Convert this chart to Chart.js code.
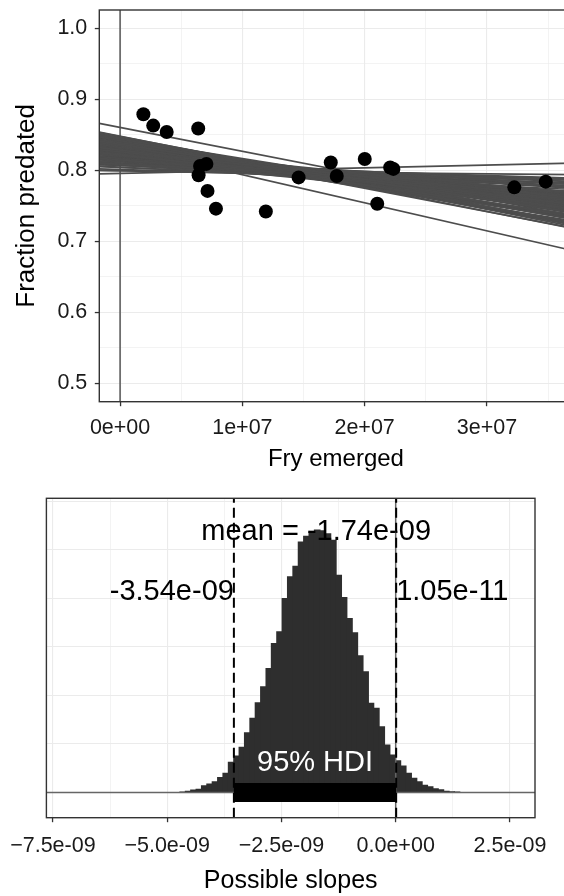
<!DOCTYPE html>
<html>
<head>
<meta charset="utf-8">
<script src="https://cdn.jsdelivr.net/npm/chart.js@4.4.1/dist/chart.umd.min.js"></script>
<style>
  html, body { margin: 0; padding: 0; background: #fff; overflow: hidden; }
  #fitBox { position: absolute; left: 0; top: 0; width: 580px; height: 480px; }
  #slopeBox { position: absolute; left: 0; top: 480px; width: 564px; height: 416px; }
</style>
</head>
<body>
<div id="fitBox"><canvas id="fitChart"></canvas></div>
<div id="slopeBox"><canvas id="slopeChart"></canvas></div>
<script>
// observed years: fry emerged vs fraction predated
const fryEmerged = [1.905e6, 2.71e6, 3.81e6, 6.39e6, 6.54e6, 7.06e6, 6.42e6, 7.15e6, 7.84e6, 1.192e7,
  1.46e7, 1.723e7, 1.772e7, 2.001e7, 2.103e7, 2.209e7, 2.235e7, 3.224e7, 3.481e7];
const fractionPredated = [0.879, 0.863, 0.854, 0.859, 0.806, 0.809, 0.793, 0.771, 0.746, 0.742,
  0.790, 0.811, 0.792, 0.816, 0.753, 0.804, 0.802, 0.776, 0.784];

// posterior regression lines, read at the left and right edge of the panel
const lineStartX = -1.7e6;
const lineEndX = 3.7e7;
const lineStartY = [0.829, 0.832, 0.817, 0.841, 0.810, 0.839, 0.825, 0.823, 0.849, 0.832,
  0.816, 0.829, 0.829, 0.847, 0.810, 0.809, 0.826, 0.839, 0.822, 0.800,
  0.830, 0.817, 0.843, 0.833, 0.823, 0.805, 0.851, 0.833, 0.825, 0.822,
  0.837, 0.817, 0.825, 0.809, 0.834, 0.837, 0.819, 0.847, 0.815, 0.836,
  0.833, 0.817, 0.800, 0.854, 0.840, 0.819, 0.866, 0.840, 0.795,
  0.825, 0.827, 0.836, 0.830, 0.815, 0.823, 0.840, 0.823, 0.847, 0.816,
  0.837, 0.816, 0.840, 0.828, 0.832, 0.827, 0.819, 0.810, 0.842, 0.826,
  0.832, 0.820, 0.846, 0.841,
  0.853, 0.851, 0.846, 0.851, 0.850, 0.844, 0.846, 0.836, 0.813, 0.808,
  0.808, 0.802, 0.815, 0.812, 0.820, 0.806, 0.840, 0.843, 0.834, 0.849];
const lineEndY = [0.762, 0.752, 0.764, 0.741, 0.777, 0.752, 0.751, 0.763, 0.735, 0.738,
  0.776, 0.749, 0.769, 0.727, 0.764, 0.789, 0.759, 0.732, 0.775, 0.787,
  0.757, 0.757, 0.750, 0.746, 0.770, 0.778, 0.725, 0.760, 0.745, 0.768,
  0.737, 0.784, 0.758, 0.769, 0.754, 0.744, 0.759, 0.740, 0.768, 0.749,
  0.766, 0.751, 0.794, 0.721, 0.727, 0.766, 0.736, 0.687, 0.810,
  0.765, 0.754, 0.756, 0.744, 0.775, 0.756, 0.747, 0.750, 0.734, 0.769,
  0.757, 0.763, 0.740, 0.761, 0.745, 0.767, 0.752, 0.784, 0.735, 0.746,
  0.758, 0.767, 0.726, 0.748,
  0.726, 0.718, 0.719, 0.731, 0.723, 0.724, 0.732, 0.729, 0.787, 0.788,
  0.781, 0.782, 0.781, 0.778, 0.780, 0.773, 0.733, 0.743, 0.734, 0.742];

// histogram of posterior slopes
const slopeBins = [-4.659e-9, -4.541e-9, -4.424e-9, -4.306e-9, -4.188e-9, -4.071e-9, -3.953e-9, -3.835e-9,
  -3.718e-9, -3.600e-9, -3.482e-9, -3.365e-9, -3.247e-9, -3.129e-9, -3.012e-9, -2.894e-9,
  -2.776e-9, -2.659e-9, -2.541e-9, -2.423e-9, -2.306e-9, -2.188e-9, -2.070e-9, -1.953e-9,
  -1.835e-9, -1.717e-9, -1.600e-9, -1.482e-9, -1.364e-9, -1.247e-9, -1.129e-9, -1.011e-9,
  -0.894e-9, -0.776e-9, -0.658e-9, -0.541e-9, -0.423e-9, -0.305e-9, -0.188e-9, -0.070e-9,
  0.048e-9, 0.165e-9, 0.283e-9, 0.401e-9, 0.518e-9, 0.636e-9, 0.754e-9, 0.871e-9,
  0.989e-9, 1.107e-9, 1.224e-9, 1.342e-9];
const slopeCounts = [7, 15, 28, 36, 72, 88, 113, 155, 200, 313, 378, 468, 618, 766, 927, 1092,
  1281, 1539, 1658, 2002, 2225, 2335, 2585, 2644, 2688, 2709, 2700, 2668, 2603, 2242, 2013, 1796,
  1648, 1411, 1246, 921, 869, 680, 491, 388, 330, 275, 200, 148, 113, 77, 62, 41,
  31, 15, 10, 6];
const slopeMean = -1.74e-9;
const hdiLow = -3.54e-9;
const hdiHigh = 1.05e-11;

// ticks
const fitXTicks = [0, 1e7, 2e7, 3e7];
const fitXLabels = ['0e+00', '1e+07', '2e+07', '3e+07'];
const fitXMinor = [5e6, 1.5e7, 2.5e7, 3.5e7];
const fitYTicks = [0.5, 0.6, 0.7, 0.8, 0.9, 1.0];
const fitYLabels = ['0.5', '0.6', '0.7', '0.8', '0.9', '1.0'];
const fitYMinor = [0.55, 0.65, 0.75, 0.85, 0.95];
const slopeXTicks = [-7.5e-9, -5e-9, -2.5e-9, 0, 2.5e-9];
const slopeXLabels = ['\u22127.5e-09', '\u22125.0e-09', '\u22122.5e-09', '0.0e+00', '2.5e-09'];
const slopeXMinor = [-6.25e-9, -3.75e-9, -1.25e-9, 1.25e-9];
const slopeYGrid = [0, 500, 1000, 1500, 2000, 2500, 3000];

const FONT = "'Liberation Sans', Arial, Helvetica, sans-serif";

function findTick(list, v, tol) {
  return list.findIndex(t => Math.abs(t - v) < tol);
}

// replace the automatic ticks by our own major + minor positions
function setTicks(major, minor) {
  return function (scale) {
    scale.ticks = major.concat(minor).sort((a, b) => a - b).map(v => ({ value: v }));
  };
}

// fixed axis size, and no extra room for labels sticking out
function fixSize(prop, size) {
  return function (s) {
    s[prop] = size;
    s.paddingTop = 0; s.paddingBottom = 0; s.paddingLeft = 0; s.paddingRight = 0;
  };
}

function gridFor(major, tol, showTicks) {
  const isMajor = c => c.tick && findTick(major, c.tick.value, tol) >= 0;
  return {
    color: '#ebebeb',
    lineWidth: c => isMajor(c) ? 1.1 : 0.6,
    drawTicks: showTicks,
    tickLength: 4.5,
    tickWidth: 1.3,
    tickColor: c => isMajor(c) ? '#333333' : 'rgba(0,0,0,0)'
  };
}

function labelFor(major, labels, tol) {
  return function (value) {
    const i = findTick(major, value, tol);
    return i >= 0 ? labels[i] : '';
  };
}

// ggplot style box around the panel
const panelBorder = {
  id: 'panelBorder',
  afterDraw(chart) {
    const { ctx, chartArea: a } = chart;
    ctx.save();
    ctx.strokeStyle = '#333333';
    ctx.lineWidth = 1.4;
    ctx.strokeRect(a.left, a.top, a.right - a.left, a.bottom - a.top);
    ctx.restore();
  }
};

// ---------- top panel: data + posterior lines ----------
const fitYMin = 0.4741, fitYMax = 1.0258;
const fitDatasets = [{
  data: fryEmerged.map((x, i) => ({ x: x, y: fractionPredated[i] })),
  pointRadius: 7,
  pointBackgroundColor: '#000',
  pointBorderWidth: 0,
  showLine: false,
  order: 0
}];
lineStartY.forEach((y0, i) => {
  fitDatasets.push({
    type: 'line',
    data: [{ x: lineStartX, y: y0 }, { x: lineEndX, y: lineEndY[i] }],
    borderColor: '#4d4d4d',
    borderWidth: 1.7,
    pointRadius: 0,
    order: 2
  });
});
fitDatasets.push({
  type: 'line',
  data: [{ x: 0, y: fitYMin }, { x: 0, y: fitYMax }],
  borderColor: '#5e5e5e',
  borderWidth: 1.6,
  pointRadius: 0,
  order: 3
});

new Chart(document.getElementById('fitChart'), {
  type: 'scatter',
  data: { datasets: fitDatasets },
  plugins: [panelBorder],
  options: {
    responsive: true,
    maintainAspectRatio: false,
    animation: false,
    events: [],
    layout: { padding: { top: 10, right: 7.5, bottom: 0, left: 0 } },
    plugins: { legend: { display: false }, tooltip: { enabled: false } },
    scales: {
      x: {
        type: 'linear',
        min: lineStartX,
        max: lineEndX,
        afterBuildTicks: setTicks(fitXTicks, fitXMinor),
        afterFit: fixSize('height', 78.3),
        grid: gridFor(fitXTicks, 1e5, true),
        border: { display: false },
        ticks: {
          autoSkip: false, maxRotation: 0, padding: 9, color: '#1a1a1a',
          font: { family: FONT, size: 21.5 },
          callback: labelFor(fitXTicks, fitXLabels, 1e5)
        },
        title: {
          display: true, text: 'Fry emerged', color: '#000',
          font: { family: FONT, size: 24 }, padding: { top: 0, bottom: 6 }
        }
      },
      y: {
        type: 'linear',
        min: fitYMin,
        max: fitYMax,
        afterBuildTicks: setTicks(fitYTicks, fitYMinor),
        afterFit: fixSize('width', 99.3),
        grid: gridFor(fitYTicks, 1e-3, true),
        border: { display: false },
        ticks: {
          autoSkip: false, padding: 7.5, color: '#1a1a1a',
          font: { family: FONT, size: 21.5 },
          callback: labelFor(fitYTicks, fitYLabels, 1e-3)
        },
        title: {
          display: true, text: 'Fraction predated', color: '#000',
          font: { family: FONT, size: 26 }, padding: { top: 11.5, bottom: 0 }
        }
      }
    }
  }
});

// ---------- bottom panel: posterior of the slope ----------
const slopeXMin = -7.642e-9, slopeXMax = 3.048e-9;
const slopeYMin = -260, slopeYMax = 3033;

const slopeNotes = [
  { text: 'mean = -1.74e-09', x: slopeMean, y: 2686, align: 'center', color: '#000' },
  { text: '-3.54e-09', x: hdiLow, y: 2064, align: 'right', color: '#000' },
  { text: '1.05e-11', x: hdiHigh, y: 2064, align: 'left', color: '#000' },
  { text: '95% HDI', x: (hdiLow + hdiHigh) / 2, y: 309, align: 'center', color: '#fff' }
];

// annotation texts, drawn right after the histogram so the lines stay on top
const slopeText = {
  id: 'slopeText',
  afterDatasetDraw(chart, args) {
    if (args.index !== 0) return;
    const { ctx, scales } = chart;
    ctx.save();
    ctx.font = '29px ' + FONT;
    ctx.textBaseline = 'middle';
    slopeNotes.forEach(n => {
      ctx.fillStyle = n.color;
      ctx.textAlign = n.align;
      ctx.fillText(n.text, scales.x.getPixelForValue(n.x), scales.y.getPixelForValue(n.y));
    });
    ctx.restore();
  }
};

function vline(x, color, width, dash, order) {
  return {
    type: 'line',
    data: [{ x: x, y: slopeYMin }, { x: x, y: slopeYMax }],
    borderColor: color, borderWidth: width, borderDash: dash,
    pointRadius: 0, order: order
  };
}

new Chart(document.getElementById('slopeChart'), {
  type: 'bar',
  data: {
    datasets: [
      {
        type: 'bar',
        data: slopeBins.map((x, i) => ({ x: x, y: slopeCounts[i] })),
        backgroundColor: '#2e2e2e',
        borderWidth: 0,
        barThickness: 6,
        order: 10
      },
      {
        type: 'line',
        data: [{ x: slopeXMin, y: 0 }, { x: slopeXMax, y: 0 }],
        borderColor: '#666666', borderWidth: 1.5, pointRadius: 0, order: 5
      },
      vline(0, '#666666', 1.5, [], 4),
      vline(hdiLow, '#000', 2, [10, 5], 3),
      vline(hdiHigh, '#000', 2, [10, 5], 3),
      {
        type: 'line',
        data: [{ x: hdiLow, y: 0 }, { x: hdiHigh, y: 0 }],
        borderColor: '#000', borderWidth: 19, borderCapStyle: 'butt',
        pointRadius: 0, order: 0
      }
    ]
  },
  plugins: [slopeText, panelBorder],
  options: {
    responsive: true,
    maintainAspectRatio: false,
    animation: false,
    events: [],
    layout: { padding: { top: 18.3, right: 29, bottom: 0, left: 0 } },
    plugins: { legend: { display: false }, tooltip: { enabled: false } },
    scales: {
      x: {
        type: 'linear',
        offset: false,
        min: slopeXMin,
        max: slopeXMax,
        afterBuildTicks: setTicks(slopeXTicks, slopeXMinor),
        afterFit: fixSize('height', 78.3),
        grid: Object.assign(gridFor(slopeXTicks, 1e-11, true), { offset: false }),
        border: { display: false },
        ticks: {
          autoSkip: false, maxRotation: 0, padding: 11, color: '#1a1a1a',
          font: { family: FONT, size: 21.5 },
          callback: labelFor(slopeXTicks, slopeXLabels, 1e-11)
        },
        title: {
          display: true, text: 'Possible slopes', color: '#000',
          font: { family: FONT, size: 25 }, padding: { top: 0, bottom: 0 }
        }
      },
      y: {
        type: 'linear',
        min: slopeYMin,
        max: slopeYMax,
        afterBuildTicks: setTicks(slopeYGrid, []),
        afterFit: fixSize('width', 46.4),
        grid: gridFor(slopeYGrid, 1, false),
        border: { display: false },
        ticks: { display: false }
      }
    }
  }
});
</script>
</body>
</html>
